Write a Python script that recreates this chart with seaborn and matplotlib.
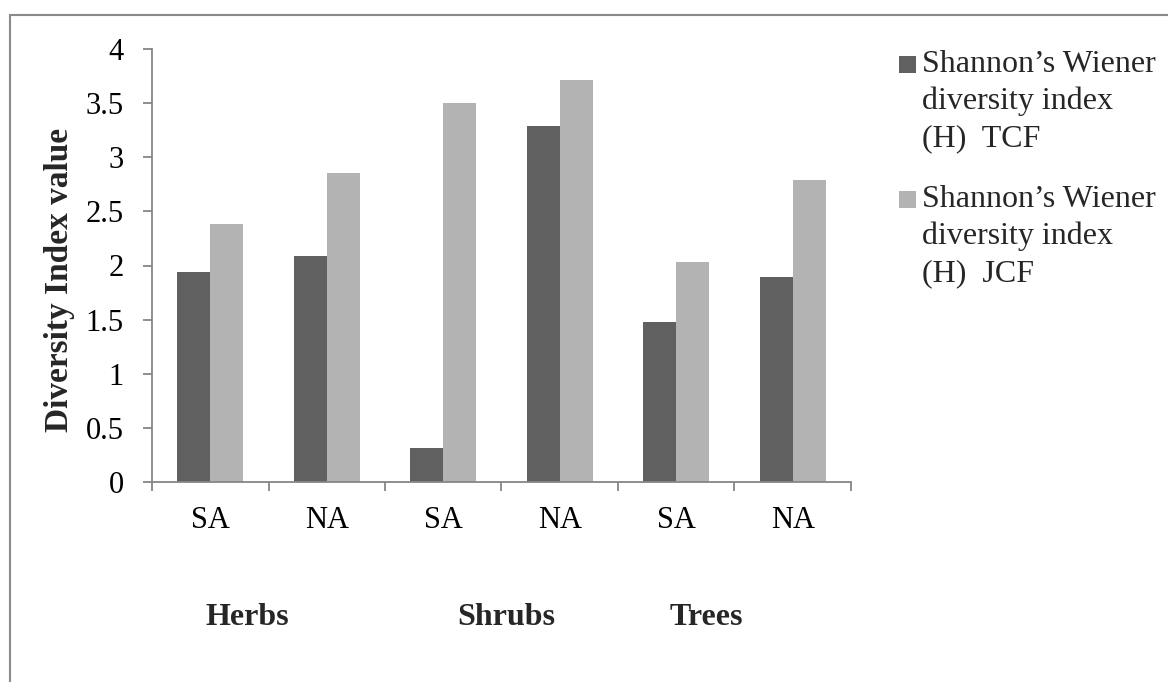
import matplotlib
matplotlib.use("Agg")
import matplotlib.pyplot as plt
from matplotlib.lines import Line2D
from matplotlib.patches import Rectangle
from matplotlib.legend_handler import HandlerPatch
import seaborn as sns
import pandas as pd
import numpy as np

# Data
groups = ["Herbs", "Shrubs", "Trees"]
sites = ["SA", "NA", "SA", "NA", "SA", "NA"]
slot_group = ["Herbs", "Herbs", "Shrubs", "Shrubs", "Trees", "Trees"]
tcf = [1.94, 2.09, 0.31, 3.29, 1.48, 1.89]
jcf = [2.38, 2.85, 3.50, 3.71, 2.03, 2.79]
series_names = ["Shannon\u2019s Wiener\ndiversity index\n(H)  TCF",
                "Shannon\u2019s Wiener\ndiversity index\n(H)  JCF"]
yticks = [0, 0.5, 1, 1.5, 2, 2.5, 3, 3.5, 4]
ytick_labels = ["0", "0.5", "1", "1.5", "2", "2.5", "3", "3.5", "4"]

slots = [f"{g} {s}" for g, s in zip(slot_group, sites)]
df = pd.DataFrame({
    "slot": slots * 2,
    "value": tcf + jcf,
    "series": [series_names[0]] * 6 + [series_names[1]] * 6,
})

sns.set_theme(style="white")
plt.rcParams["font.family"] = ["Liberation Serif", "DejaVu Serif"]

W, H = 1168, 682
fig = plt.figure(figsize=(W / 100, H / 100), dpi=100)
ax = fig.add_axes([152 / W, 1 - 482 / H, 699 / W, 433 / H])

axis_grey = "#868686"
palette = {series_names[0]: "#606060", series_names[1]: "#b3b3b3"}
sns.barplot(data=df, x="slot", y="value", hue="series", order=slots,
            hue_order=series_names, palette=palette, width=0.566,
            saturation=1, edgecolor="none", linewidth=0, ax=ax)

ax.set_xlim(-0.5, 5.5)
ax.set_ylim(0, 4)
ax.set_yticks(yticks)
ax.set_yticklabels(ytick_labels, fontsize=22)
ax.set_xticks(range(6))
ax.set_xticklabels(sites, fontsize=22)
ax.set_xticks(np.arange(-0.5, 6.0, 1.0), minor=True)
ax.tick_params(axis="x", which="major", bottom=True, length=0, pad=17,
               labelcolor="black")
ax.tick_params(axis="x", which="minor", bottom=True, length=6.5, width=1.3,
               color=axis_grey, direction="out")
ax.tick_params(axis="y", which="major", left=True, length=6.5, width=1.3,
               color=axis_grey, direction="out", pad=14, labelcolor="black")

for side in ["top", "right"]:
    ax.spines[side].set_visible(False)
for side in ["left", "bottom"]:
    ax.spines[side].set_color(axis_grey)
    ax.spines[side].set_linewidth(1.3)

ax.set_xlabel("")
ax.set_ylabel("Diversity Index value", fontsize=24, fontweight="bold")
ax.yaxis.label.set_va("center")
ax.yaxis.set_label_coords(-0.132, 0.466)

# Group labels under the site labels
group_x = [0.32, 2.54, 4.26]
for g, gx in zip(groups, group_x):
    ax.text(gx, -0.312, g, transform=ax.get_xaxis_transform(),
            ha="center", va="center", fontsize=23, fontweight="bold")

LEG_FS = 23
LEG_LS = 1.35


def square_patch(legend, orig_handle, xdescent, ydescent, width, height,
                 fontsize):
    # square sits on the baseline of the first of three label lines
    size = 0.53 * fontsize
    step = 0.857 * LEG_LS * fontsize
    return Rectangle((-xdescent, 2 * step - 1.065 * fontsize), size, size)


handles, labels = ax.get_legend_handles_labels()
leg = fig.legend(handles, labels, loc="upper left",
                 bbox_to_anchor=(899 / W, 1 - 50 / H), frameon=False,
                 fontsize=LEG_FS, handlelength=0.53, handleheight=0.53,
                 handletextpad=0.2, labelspacing=1.0, borderpad=0,
                 borderaxespad=0,
                 handler_map={Rectangle: HandlerPatch(patch_func=square_patch)})
for t in leg.get_texts():
    t.set_linespacing(LEG_LS)
if ax.get_legend() is not None:
    ax.get_legend().remove()

# Frame lines along the left and top edges
frame_kw = dict(color="#8a8a8a", linewidth=1.5, transform=fig.transFigure)
fig.add_artist(Line2D([10 / W, 10 / W], [0, 1 - 15 / H], **frame_kw))
fig.add_artist(Line2D([10 / W, 1], [1 - 15 / H, 1 - 15 / H], **frame_kw))

fig.savefig("out.png", dpi=100, facecolor="white")
